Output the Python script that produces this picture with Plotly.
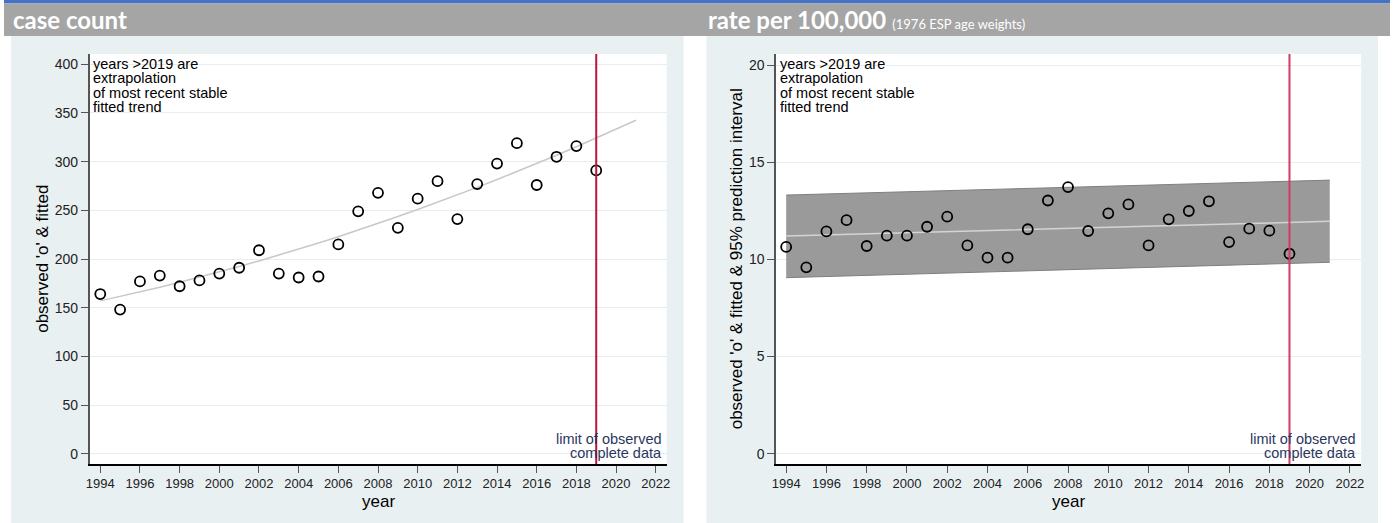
import plotly.graph_objects as go

# ---------------- data ----------------
years = list(range(1994, 2020))
fit_years = list(range(1994, 2022))

count_obs = [164, 148, 177, 183, 172, 178, 185, 191, 209, 185, 181, 182, 215,
             249, 268, 232, 262, 280, 241, 277, 298, 319, 276, 305, 316, 291]
count_fit = [157.0, 161.5, 166.2, 171.0, 176.1, 181.3, 186.7, 192.3, 198.0, 204.0,
             210.1, 216.4, 222.9, 229.6, 236.5, 243.6, 250.8, 258.2, 265.8, 273.6,
             281.6, 289.7, 298.1, 306.6, 315.3, 324.2, 333.2, 342.5]

rate_obs = [10.64, 9.59, 11.44, 12.02, 10.69, 11.22, 11.22, 11.68, 12.20, 10.72,
            10.09, 10.09, 11.55, 13.03, 13.72, 11.46, 12.37, 12.83, 10.72, 12.06,
            12.49, 12.99, 10.89, 11.58, 11.48, 10.29]
rate_fit = [11.20, 11.23, 11.26, 11.28, 11.31, 11.34, 11.37, 11.40, 11.42, 11.45,
            11.48, 11.51, 11.54, 11.57, 11.59, 11.62, 11.65, 11.68, 11.71, 11.73,
            11.76, 11.79, 11.82, 11.85, 11.87, 11.90, 11.93, 11.96]
rate_upper = [13.31, 13.34, 13.37, 13.40, 13.42, 13.45, 13.48, 13.51, 13.54, 13.57,
              13.60, 13.62, 13.65, 13.68, 13.71, 13.74, 13.77, 13.79, 13.82, 13.85,
              13.88, 13.91, 13.94, 13.97, 13.99, 14.02, 14.05, 14.08]
rate_lower = [9.06, 9.09, 9.12, 9.15, 9.18, 9.21, 9.24, 9.27, 9.29, 9.32,
              9.35, 9.38, 9.41, 9.44, 9.47, 9.50, 9.53, 9.56, 9.59, 9.62,
              9.65, 9.68, 9.70, 9.73, 9.76, 9.79, 9.82, 9.85]

x_ticks = list(range(1994, 2023, 2))
count_ticks = [0, 50, 100, 150, 200, 250, 300, 350, 400]
rate_ticks = [0, 5, 10, 15, 20]
limit_year = 2019

note_lines = ["years >2019 are", "extrapolation", "of most recent stable", "fitted trend"]
limit_lines = ["limit of observed", "complete data"]

# ---------------- layout helpers ----------------
W, H = 1393, 523
def px(x):
    return x / W
def py(y):
    return 1 - y / H

FONT = "Liberation Sans, Arial, sans-serif"

fig = go.Figure()

marker_style = dict(symbol="circle-open", size=10, color="black",
                    line=dict(width=1.8, color="black"))

# left panel traces
fig.add_trace(go.Scatter(x=fit_years, y=count_fit, mode="lines",
                         line=dict(color="#c8c8c8", width=1.5),
                         xaxis="x", yaxis="y", showlegend=False, hoverinfo="skip"))
fig.add_trace(go.Scatter(x=years, y=count_obs, mode="markers", marker=marker_style,
                         xaxis="x", yaxis="y", showlegend=False))

# right panel traces
fig.add_trace(go.Scatter(x=fit_years, y=rate_lower, mode="lines",
                         line=dict(color="#7f7f7f", width=1),
                         xaxis="x2", yaxis="y2", showlegend=False, hoverinfo="skip"))
fig.add_trace(go.Scatter(x=fit_years, y=rate_upper, mode="lines", fill="tonexty",
                         fillcolor="#9a9a9a", line=dict(color="#7f7f7f", width=1),
                         xaxis="x2", yaxis="y2", showlegend=False, hoverinfo="skip"))
fig.add_trace(go.Scatter(x=fit_years, y=rate_fit, mode="lines",
                         line=dict(color="#d4d4d4", width=1.5),
                         xaxis="x2", yaxis="y2", showlegend=False, hoverinfo="skip"))
fig.add_trace(go.Scatter(x=years, y=rate_obs, mode="markers", marker=marker_style,
                         xaxis="x2", yaxis="y2", showlegend=False))

# domains (pixel measured)
L_x0, L_x1 = 86, 666
R_x0, R_x1 = 776, 1364
P_top, P_bot = 54, 464

common_x = dict(tickmode="array", tickvals=x_ticks, ticks="outside", ticklen=7,
                tickcolor="#555555", tickwidth=1.2, showline=True, linecolor="black",
                linewidth=1.5, showgrid=False, zeroline=False,
                tickfont=dict(family=FONT, size=13, color="#222222"))
common_y = dict(tickmode="array", ticks="outside", ticklen=7, tickcolor="#555555",
                tickwidth=1.2, showline=True, linecolor="#555555", linewidth=1.5,
                showgrid=True, gridcolor="#e6eef0", gridwidth=1, zeroline=False,
                tickfont=dict(family=FONT, size=14, color="#222222"))

fig.update_layout(
    width=W, height=H, margin=dict(l=0, r=0, t=0, b=0),
    paper_bgcolor="white", plot_bgcolor="white",
    xaxis=dict(domain=[px(L_x0), px(L_x1)], range=[1993.46, 2022.55], anchor="y", **common_x),
    yaxis=dict(domain=[py(P_bot), py(P_top)], range=[-10.6, 410.6], anchor="x",
               tickvals=count_ticks, **common_y),
    xaxis2=dict(domain=[px(R_x0), px(R_x1)], range=[1993.5, 2022.56], anchor="y2", **common_x),
    yaxis2=dict(domain=[py(P_bot), py(P_top)], range=[-0.53, 20.57], anchor="x2",
                tickvals=rate_ticks, **common_y),
    showlegend=False,
)

shapes = [
    dict(type="rect", xref="paper", yref="paper", x0=0, x1=1, y0=py(3.5), y1=1,
         fillcolor="#4472c4", line=dict(width=0), layer="below"),
    dict(type="rect", xref="paper", yref="paper", x0=0, x1=1, y0=py(36), y1=py(3.5),
         fillcolor="#a5a5a5", line=dict(width=0), layer="below"),
    dict(type="rect", xref="paper", yref="paper", x0=px(7), x1=px(683), y0=0, y1=py(36),
         fillcolor="#e9f0f2", line=dict(width=0), layer="below"),
    dict(type="rect", xref="paper", yref="paper", x0=px(706), x1=px(1381), y0=0, y1=py(36),
         fillcolor="#e9f0f2", line=dict(width=0), layer="below"),
    dict(type="rect", xref="x domain", yref="y domain", x0=0, x1=1, y0=0, y1=1,
         fillcolor="white", line=dict(width=0), layer="below"),
    dict(type="rect", xref="x2 domain", yref="y2 domain", x0=0, x1=1, y0=0, y1=1,
         fillcolor="white", line=dict(width=0), layer="below"),
    dict(type="line", xref="x", yref="y domain", x0=limit_year, x1=limit_year, y0=0, y1=1,
         line=dict(color="#b8163e", width=2), layer="above"),
    dict(type="line", xref="x2", yref="y2 domain", x0=limit_year, x1=limit_year, y0=0, y1=1,
         line=dict(color="#d23c64", width=2), layer="above"),
]
fig.update_layout(shapes=shapes)

ann = []
# headers
ann.append(dict(text="<b>case count</b>", xref="paper", yref="paper", x=px(7), y=py(19),
                xanchor="left", yanchor="middle", showarrow=False,
                font=dict(family="Lato, sans-serif", size=24, color="white")))
ann.append(dict(text="<b>rate per 100,000</b> <span style='font-size:13px'>(1976 ESP age weights)</span>",
                xref="paper", yref="paper", x=px(706), y=py(19),
                xanchor="left", yanchor="middle", showarrow=False,
                font=dict(family="Lato, sans-serif", size=24, color="white")))

for xleft, xright in [(L_x0, L_x1), (R_x0, R_x1)]:
    for i, t in enumerate(note_lines):
        ann.append(dict(text=t, xref="paper", yref="paper", x=px(xleft + 1.5), y=py(64 + 14.4 * i),
                        xanchor="left", yanchor="middle", showarrow=False,
                        font=dict(family=FONT, size=14.5, color="black")))
    for i, t in enumerate(limit_lines):
        ann.append(dict(text=t, xref="paper", yref="paper", x=px(xright - 3), y=py(438.7 + 14.6 * i),
                        xanchor="right", yanchor="middle", showarrow=False,
                        font=dict(family=FONT, size=14.5, color="#2b3760")))
    ann.append(dict(text="year", xref="paper", yref="paper", x=px((xleft + xright) / 2), y=py(501),
                    xanchor="center", yanchor="middle", showarrow=False,
                    font=dict(family=FONT, size=17, color="black")))

ann.append(dict(text="observed 'o' & fitted", xref="paper", yref="paper", x=px(38),
                y=py((P_top + P_bot) / 2), xanchor="center", yanchor="middle", textangle=-90,
                showarrow=False, font=dict(family=FONT, size=17, color="black")))
ann.append(dict(text="observed 'o' & fitted & 95% prediction interval", xref="paper", yref="paper",
                x=px(736), y=py((P_top + P_bot) / 2), xanchor="center", yanchor="middle",
                textangle=-90, showarrow=False, font=dict(family=FONT, size=17, color="black")))

fig.update_layout(annotations=ann)

fig.write_html("out.html", config={"displayModeBar": False},
               post_script="document.body.style.margin='0';document.body.style.padding='0';"
                           "document.body.style.overflow='hidden';")
